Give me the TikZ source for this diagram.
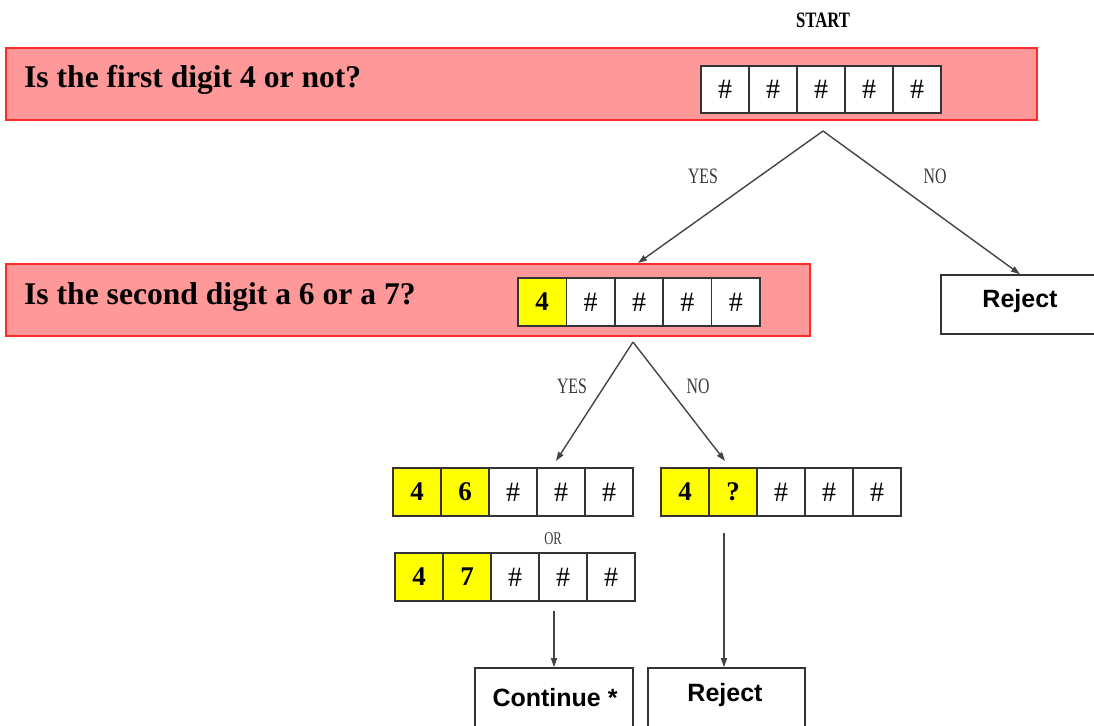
\documentclass[tikz,border=0pt]{standalone}
\usepackage{fontspec}
\setmainfont{Liberation Serif}
\newfontfamily\arialfont{Liberation Sans}
\usetikzlibrary{arrows.meta}
\definecolor{bandfill}{HTML}{FF9999}
\definecolor{bandline}{HTML}{FF2A2A}
\definecolor{boxline}{HTML}{333333}
\definecolor{arrowgray}{HTML}{444444}
\definecolor{labelgray}{HTML}{3A3A3A}
\definecolor{hlyellow}{HTML}{FFFF00}
\begin{document}
\begin{tikzpicture}[x=1pt,y=-1pt,
  band/.style={draw=bandline, line width=2pt, fill=bandfill, inner sep=0pt},
  qtext/.style={anchor=west, inner sep=0pt, font=\fontsize{31.6}{31.6}\selectfont\bfseries},
  cell/.style={draw=boxline, line width=1.6pt, fill=white, minimum width=48pt, minimum height=48pt, inner sep=0pt, font=\fontsize{28}{28}\selectfont},
  hl/.style={cell, fill=hlyellow, font=\fontsize{27}{27}\selectfont\bfseries},
  endbox/.style={draw=boxline, line width=1.6pt, fill=white, inner sep=0pt, font=\arialfont\bfseries\fontsize{25}{25}\selectfont},
  arr/.style={draw=arrowgray, line width=1.4pt, -{Triangle[length=9pt,width=6pt]}},
  lbl/.style={text=labelgray, inner sep=0pt, font=\fontsize{22}{22}\selectfont}
]
\useasboundingbox (0,0) rectangle (1094,725);
\clip (0,0) rectangle (1094,725);

% bands
\node[band, minimum width=1031pt, minimum height=72pt] (band1) at (521.5,84) {};
\node[band, minimum width=804pt, minimum height=72pt] (band2) at (408,300) {};
\node[qtext] (q1) at (24,80) {Is the first digit 4 or not?};
\node[qtext] (q2) at (24,297) {Is the second digit a 6 or a 7?};

% START
\node[inner sep=0pt, font=\fontsize{22}{22}\selectfont\bfseries] (start) at (823,20) {\scalebox{0.76}[1]{START}};

% row 1
\node[cell, minimum height=47pt] (r1a) at (725,89.5) {\#};
\node[cell, minimum height=47pt] (r1b) at (773,89.5) {\#};
\node[cell, minimum height=47pt] (r1c) at (821,89.5) {\#};
\node[cell, minimum height=47pt] (r1d) at (869,89.5) {\#};
\node[cell, minimum height=47pt] (r1e) at (917,89.5) {\#};

% row 2
\node[hl, minimum width=48.4pt] (r2a) at (542.2,302) {4};
\node[cell, minimum width=48.4pt] (r2b) at (590.6,302) {\#};
\node[cell, minimum width=48.4pt] (r2c) at (639,302) {\#};
\node[cell, minimum width=48.4pt] (r2d) at (687.4,302) {\#};
\node[cell, minimum width=48.4pt] (r2e) at (735.8,302) {\#};

% row 3 (yes, 6)
\node[hl] (r3a) at (417,492) {4};
\node[hl] (r3b) at (465,492) {6};
\node[cell] (r3c) at (513,492) {\#};
\node[cell] (r3d) at (561,492) {\#};
\node[cell] (r3e) at (609,492) {\#};

% row 4 (yes, 7)
\node[hl] (r4a) at (419,577) {4};
\node[hl] (r4b) at (467,577) {7};
\node[cell] (r4c) at (515,577) {\#};
\node[cell] (r4d) at (563,577) {\#};
\node[cell] (r4e) at (611,577) {\#};

% row no
\node[hl] (rna) at (685,492) {4};
\node[hl] (rnb) at (733,492) {?};
\node[cell] (rnc) at (781,492) {\#};
\node[cell] (rnd) at (829,492) {\#};
\node[cell] (rne) at (877,492) {\#};

% end boxes
\node[endbox, minimum width=158pt, minimum height=59pt] (rej1) at (1020,304.5) {};
\node[inner sep=0pt, font=\arialfont\bfseries\fontsize{25}{25}\selectfont] (rej1t) at (1020,301) {Reject};
\node[endbox, minimum width=158pt, minimum height=62pt] (cont) at (554,699) {};
\node[inner sep=0pt, font=\arialfont\bfseries\fontsize{25}{25}\selectfont] (contt) at (555,698) {Continue *};
\node[endbox, minimum width=157pt, minimum height=62pt] (rej2) at (726.5,699) {};
\node[inner sep=0pt, font=\arialfont\bfseries\fontsize{25}{25}\selectfont] (rej2t) at (725,695) {Reject};

% labels
\node[lbl] (yes1) at (703,176) {\scalebox{0.72}[1]{YES}};
\node[lbl] (no1) at (935,176) {\scalebox{0.72}[1]{NO}};
\node[lbl] (yes2) at (572,386) {\scalebox{0.72}[1]{YES}};
\node[lbl] (no2) at (698,386) {\scalebox{0.72}[1]{NO}};
\node[lbl, font=\fontsize{18}{18}\selectfont] (or) at (553,539) {\scalebox{0.7}[1]{OR}};

% connector points
\coordinate (apex1) at (823,131);
\coordinate (apex2) at (633,342);
\coordinate (y1end) at (638,263);
\coordinate (y2end) at (556,461);
\coordinate (n2end) at (725,461);
\coordinate (nstart) at (724,533);
\coordinate (cstart) at (554,611);

% connectors
\draw[arr] (apex1) -- (y1end);
\draw[arr] (apex1) -- (rej1.north);
\draw[arr] (apex2) -- (y2end);
\draw[arr] (apex2) -- (n2end);
\draw[arr] (nstart) -- (nstart |- rej2.north);
\draw[arr] (cstart) -- (cstart |- cont.north);
\end{tikzpicture}
\end{document}
